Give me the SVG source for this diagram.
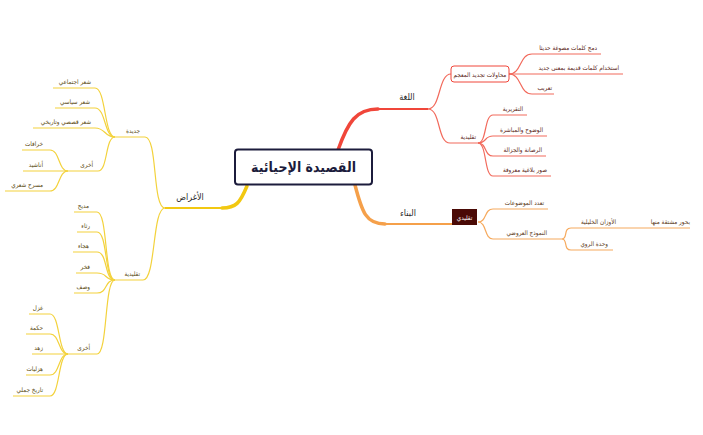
<svg xmlns="http://www.w3.org/2000/svg" width="703" height="435" viewBox="0 0 703 435">
<style>
text{font-family:"DejaVu Sans Condensed","DejaVu Sans",sans-serif}
.main{font-size:9px;fill:#2a2a2a;text-anchor:middle}
.r{font-size:6.3px;fill:#5c1f1a;text-anchor:end}
.o{font-size:6.3px;fill:#5c3a1a;text-anchor:end}
.y{font-size:6.3px;fill:#5a4a12;text-anchor:end}
.cr{fill:none;stroke:#f26a5c;stroke-width:1.2}
.co{fill:none;stroke:#f6aa5e;stroke-width:1.2}
.cy{fill:none;stroke:#f3d23c;stroke-width:1.2}
</style>
<rect width="703" height="435" fill="#ffffff"/>
<g id="connectors">
<path d="M338 150 C348 122 356 109 378 109" fill="none" stroke="#f0463a" stroke-width="3.5" stroke-linecap="round"/>
<path d="M376 109 L428 109" fill="none" stroke="#f0463a" stroke-width="1.8"/>
<path d="M355 185 C362 212 366 224 385 224" fill="none" stroke="#f5a04a" stroke-width="3.5" stroke-linecap="round"/>
<path d="M383 224 L452 224" fill="none" stroke="#f5a04a" stroke-width="1.8"/>
<path d="M247 186 C240 203 236 208 222 208" fill="none" stroke="#f2c811" stroke-width="3.5" stroke-linecap="round"/>
<path d="M224 208 L165 208" fill="none" stroke="#f2c811" stroke-width="1.8"/>
<path class="cr" d="M428 109 C441 109 438 74 451 74"/>
<path class="cr" d="M428 109 C441 109 437 143 450 143 L480 143"/>
<path class="cr" d="M509 74 C522 74 519 54 532 54 L601 54"/>
<path class="cr" d="M509 74 L623 74"/>
<path class="cr" d="M509 74 C522 74 519 94 532 94 L554 94"/>
<path class="cr" d="M478 143 C487 143 484 115 493 115 L527 115"/>
<path class="cr" d="M478 143 C487 143 484 136 493 136 L547 136"/>
<path class="cr" d="M478 143 C487 143 484 156 493 156 L546 156"/>
<path class="cr" d="M478 143 C487 143 484 176 493 176 L551 176"/>
<path class="co" d="M478 222 C487 222 484 209 493 209 L548 209"/>
<path class="co" d="M478 222 C487 222 484 239 493 239 L562 239"/>
<path class="co" d="M562 239 C568 239 563 228 571 228 L690 228"/>
<path class="co" d="M562 239 C568 239 563 250 571 250 L613 250"/>
<path class="cy" d="M165 208 C152 208 158 137 145 137 L115 137"/>
<path class="cy" d="M165 208 C152 208 156 280 143 280 L115 280"/>
<path class="cy" d="M115 137 C104 137 106 88 95 88 L53 88"/>
<path class="cy" d="M115 137 C104 137 106 108 95 108 L55 108"/>
<path class="cy" d="M115 137 C104 137 106 128 95 128 L33 128"/>
<path class="cy" d="M115 137 C105 137 108 171 98 171 L68 171"/>
<path class="cy" d="M68 171 C58 171 60 150 50 150 L22 150"/>
<path class="cy" d="M68 171 L23 171"/>
<path class="cy" d="M68 171 C58 171 60 191 50 191 L5 191"/>
<path class="cy" d="M115 280 C104 280 108 212 97 212 L74 212"/>
<path class="cy" d="M115 280 C104 280 108 232 97 232 L77 232"/>
<path class="cy" d="M115 280 C104 280 108 252 97 252 L73 252"/>
<path class="cy" d="M115 280 C104 280 108 273 97 273 L76 273"/>
<path class="cy" d="M115 280 C104 280 108 293 97 293 L74 293"/>
<path class="cy" d="M115 280 C104 280 108 354 97 354 L68 354"/>
<path class="cy" d="M68 354 C58 354 60 314 50 314 L29 314"/>
<path class="cy" d="M68 354 C58 354 60 334 50 334 L26 334"/>
<path class="cy" d="M68 354 L32 354"/>
<path class="cy" d="M68 354 C58 354 60 375 50 375 L26 375"/>
<path class="cy" d="M68 354 C58 354 60 396 50 396 L13 396"/>
</g>
<g id="central">
<rect x="235" y="149.5" width="137" height="35" rx="3" fill="#ffffff" stroke="#1c1c3c" stroke-width="2"/>
<text x="303.5" y="172" font-size="14" font-weight="bold" fill="#1c1c3c" text-anchor="middle">القصيدة الإحيائية</text>
</g>
<g id="n-lugha"><text class="main" x="407" y="100">اللغة</text></g>
<g id="n-binaa"><text class="main" x="408" y="216">البناء</text></g>
<g id="n-aghrad"><text class="main" x="190" y="200">الأغراض</text></g>
<g id="n-muhawalat">
<rect x="451" y="66" width="58" height="16" rx="3" fill="#ffffff" stroke="#f0463a" stroke-width="1"/>
<text x="480" y="76.5" font-size="6.3" fill="#5c1f1a" text-anchor="middle">محاولات تجديد المعجم</text>
</g>
<g id="n-damj"><text class="r" x="597" y="50">دمج كلمات مصوغة حديثا</text></g>
<g id="n-istikhdam"><text class="r" x="619" y="70">استخدام كلمات قديمة بمعنى جديد</text></g>
<g id="n-taarib"><text class="r" x="552" y="90">تعريب</text></g>
<g id="n-taqlidiya-r"><text class="r" x="476" y="139">تقليدية</text></g>
<g id="n-taqririya"><text class="r" x="523" y="111">التقريرية</text></g>
<g id="n-wudooh"><text class="r" x="543" y="132">الوضوح والمباشرة</text></g>
<g id="n-rasana"><text class="r" x="542" y="152">الرصانة والجزالة</text></g>
<g id="n-suwar"><text class="r" x="547" y="172">صور بلاغية معروفة</text></g>
<g id="n-taqlidi">
<rect x="452" y="209" width="25" height="16" fill="#4a0a06"/>
<text x="464.5" y="219.5" font-size="6.3" fill="#ffffff" text-anchor="middle">تقليدي</text>
</g>
<g id="n-taaddud"><text class="o" x="544" y="205">تعدد الموضوعات</text></g>
<g id="n-namudhaj"><text class="o" x="547" y="235">النموذج العروضي</text></g>
<g id="n-awzan"><text class="o" x="616" y="224">الأوزان الخليلية</text></g>
<g id="n-buhur"><text class="o" x="690" y="224">بحور مشتقة منها</text></g>
<g id="n-wahda"><text class="o" x="608" y="246">وحدة الروي</text></g>
<g id="n-jadida"><text class="y" x="140" y="133">جديدة</text></g>
<g id="n-ijtimai"><text class="y" x="91" y="84">شعر اجتماعي</text></g>
<g id="n-siyasi"><text class="y" x="90" y="104">شعر سياسي</text></g>
<g id="n-qasasi"><text class="y" x="91" y="124">شعر قصصي وتاريخي</text></g>
<g id="n-ukhra1"><text class="y" x="93" y="167">أخرى</text></g>
<g id="n-khurafat"><text class="y" x="43" y="146">خرافات</text></g>
<g id="n-anashid"><text class="y" x="43" y="167">أناشيد</text></g>
<g id="n-masrah"><text class="y" x="43" y="187">مسرح شعري</text></g>
<g id="n-taqlidiya-y"><text class="y" x="140" y="276">تقليدية</text></g>
<g id="n-madih"><text class="y" x="89" y="208">مديح</text></g>
<g id="n-ritha"><text class="y" x="90" y="228">رثاء</text></g>
<g id="n-hija"><text class="y" x="89" y="248">هجاء</text></g>
<g id="n-fakhr"><text class="y" x="90" y="269">فخر</text></g>
<g id="n-wasf"><text class="y" x="90" y="289">وصف</text></g>
<g id="n-ukhra2"><text class="y" x="90" y="350">أخرى</text></g>
<g id="n-ghazal"><text class="y" x="43" y="310">غزل</text></g>
<g id="n-hikma"><text class="y" x="43" y="330">حكمة</text></g>
<g id="n-zuhd"><text class="y" x="43" y="350">زهد</text></g>
<g id="n-hazliyat"><text class="y" x="43" y="371">هزليات</text></g>
<g id="n-tarikh"><text class="y" x="43" y="392">تاريخ جملي</text></g>
</svg>
